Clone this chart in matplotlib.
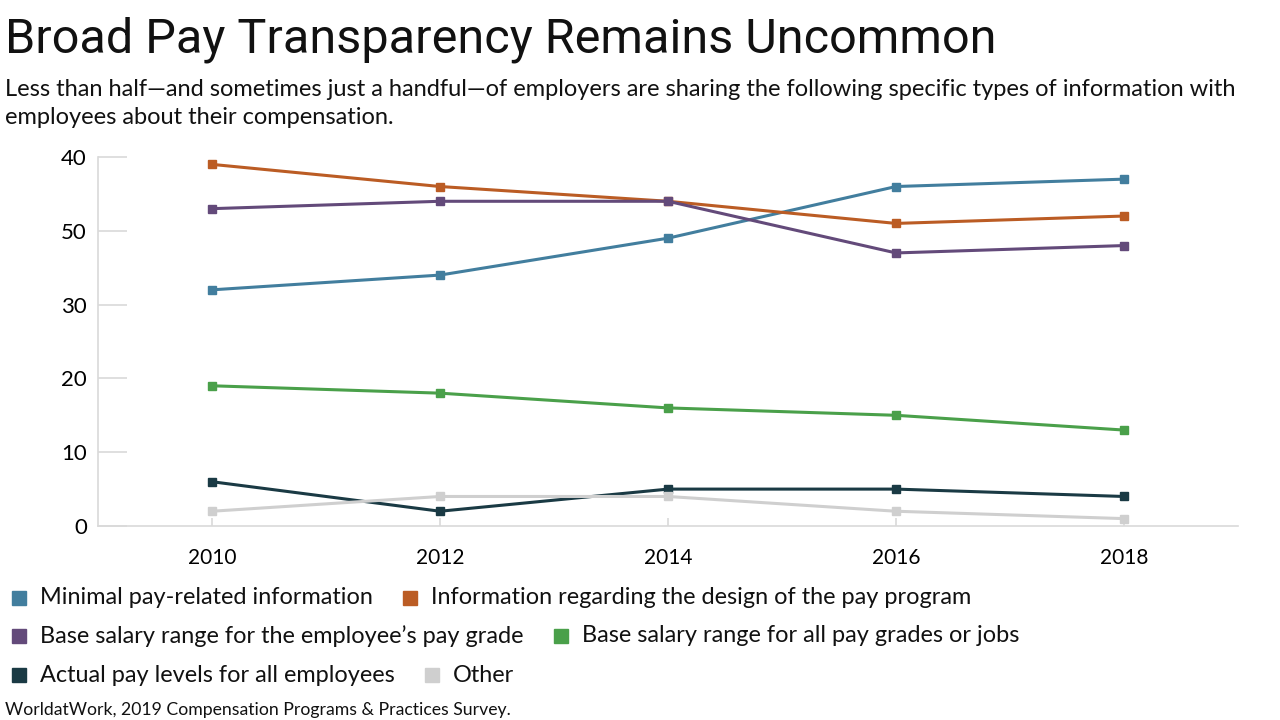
import matplotlib
matplotlib.use("Agg")
import matplotlib.pyplot as plt
from matplotlib import font_manager
from matplotlib.patches import Rectangle

# data
years = [2010, 2012, 2014, 2016, 2018]
minimal_info = [32, 34, 39, 46, 47]
design_info = [49, 46, 44, 41, 42]
base_own_grade = [43, 44, 44, 37, 38]
base_all_grades = [19, 18, 16, 15, 13]
actual_pay = [6, 2, 5, 5, 4]
other = [2, 4, 4, 2, 1]

series_names = [
    "Minimal pay-related information",
    "Information regarding the design of the pay program",
    "Base salary range for the employee\u2019s pay grade",
    "Base salary range for all pay grades or jobs",
    "Actual pay levels for all employees",
    "Other",
]
series_values = [minimal_info, design_info, base_own_grade,
                 base_all_grades, actual_pay, other]
colors = ["#427e9e", "#bb5c24", "#634a7a", "#4aa04a", "#1a3a44", "#cfcfcf"]

y_ticks = [0, 10, 20, 30, 40, 50]
y_tick_labels = ["0", "10", "20", "30", "50", "40"]  # as printed in the source

title = "Broad Pay Transparency Remains Uncommon"
subtitle = ("Less than half\u2014and sometimes just a handful\u2014of employers are sharing "
            "the following specific types of information with\nemployees about their compensation.")
source = "WorldatWork, 2019 Compensation Programs & Practices Survey."


def pick_font(names):
    for n in names:
        try:
            font_manager.findfont(n, fallback_to_default=False)
            return n
        except Exception:
            pass
    return "DejaVu Sans"


body_font = pick_font(["Lato", "Open Sans", "DejaVu Sans"])
title_font = pick_font(["Liberation Sans Narrow", "Roboto", "Lato"])
plt.rcParams['font.family'] = [body_font, "DejaVu Sans"]

fig = plt.figure(figsize=(12.8, 7.2), dpi=100)
W, H = 1280, 720

ax = fig.add_axes([98 / W, 1 - 526 / H, (1238 - 98) / W, (526 - 157) / H])

for name, vals, c in zip(series_names, series_values, colors):
    ax.plot(years, vals, color=c, lw=2.2, marker="s", ms=6, mec=c, mfc=c, zorder=3)

ax.set_xlim(2009, 2019)
ax.set_ylim(0, 50)
ax.set_xticks(years)
ax.set_xticklabels([str(y) for y in years], fontsize=15)
ax.set_yticks(y_ticks)
ax.set_yticklabels(y_tick_labels, fontsize=16)

for s in ["top", "right"]:
    ax.spines[s].set_visible(False)
for s in ["left", "bottom"]:
    ax.spines[s].set_color("#d9d9d9")
    ax.spines[s].set_linewidth(1.2)

ax.tick_params(axis="y", direction="in", length=21, width=1.2, color="#d9d9d9", pad=8)
ax.tick_params(axis="x", direction="in", length=6, width=1.2, color="#d9d9d9", pad=16)

fig.text(5 / W, 1 - 40 / H, title, fontsize=35, family=[title_font, "DejaVu Sans"],
         va="center", ha="left", color="#111111")
fig.text(5 / W, 1 - 79 / H, subtitle, fontsize=17, va="top", ha="left",
         color="#111111", linespacing=1.4)

# flowing legend, rows as in the reference
legend_rows = [[0, 1], [2, 3], [4, 5]]
row_y = [598, 636, 675]
fig.canvas.draw()
renderer = fig.canvas.get_renderer()
for row, yy in zip(legend_rows, row_y):
    x = 12
    for i in row:
        fig.patches.append(Rectangle((x / W, 1 - (yy + 7) / H), 14 / W, 14 / H,
                                     transform=fig.transFigure, color=colors[i],
                                     figure=fig))
        t = fig.text((x + 28) / W, 1 - yy / H, series_names[i], fontsize=16.9,
                     va="center", ha="left", color="#111111")
        bb = t.get_window_extent(renderer)
        x = bb.x1 + 30

fig.text(5 / W, 1 - 710 / H, source, fontsize=12.7, va="center", ha="left", color="#111111")

fig.savefig("out.png", dpi=100)
